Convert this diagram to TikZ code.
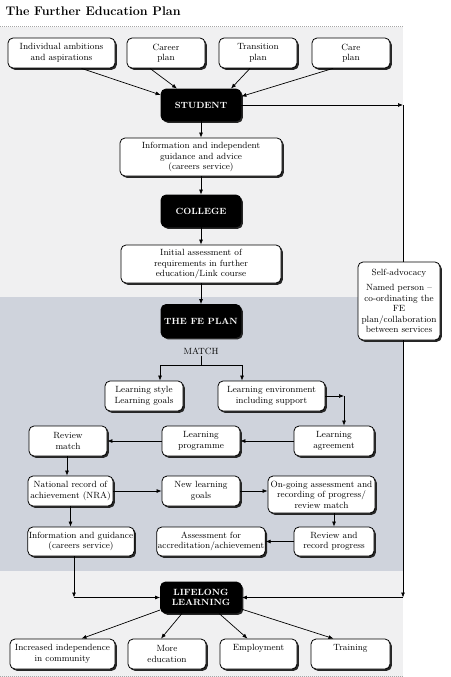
\documentclass[tikz,border=0pt]{standalone}
\usepackage{fontspec}
\usepackage{xcolor}
\usetikzlibrary{positioning, arrows.meta, calc, shadows}
\definecolor{panel}{HTML}{F0F0F1}
\definecolor{band}{HTML}{CFD3DC}

\begin{document}
\begin{tikzpicture}[
  x=1pt, y=-1pt,
  font=\fontsize{9}{10.5}\selectfont,
  box/.style={draw, rounded corners=5pt, fill=white, align=center, inner sep=1pt, minimum width=78pt, minimum height=30pt, line width=0.8pt, drop shadow={shadow xshift=1.8pt, shadow yshift=-1.8pt, fill=black!85, opacity=1}},
  dark/.style={box, fill=black, text=white, font=\fontsize{9}{10.5}\selectfont\bfseries, minimum width=80pt, minimum height=32pt},
  arr/.style={-{Latex[length=5pt, width=4pt]}, line width=0.7pt},
  line/.style={line width=0.7pt}
]
\useasboundingbox (0,0) rectangle (450,677);
\fill[panel] (0,27) rectangle (403,677);
\fill[band] (0,297) rectangle (403,571);
\draw[gray!70, line width=0.9pt, dash pattern=on 0.9pt off 1.1pt] (0,26) -- (403,26);
\draw[gray!70, line width=0.9pt, dash pattern=on 0.9pt off 1.1pt] (0,676) -- (403,676);
\node[anchor=west, font=\fontsize{12.5}{14}\selectfont\bfseries] (title) at (2,11) {The Further Education Plan};

\node[box, minimum width=107pt] (ambit) at (61.5,53) {Individual ambitions\\and aspirations};
\node[box] (career) at (166,53) {Career\\plan};
\node[box] (trans) at (258,53) {Transition\\plan};
\node[box] (care) at (351,53) {Care\\plan};
\node[dark] (student) at (201,105) {STUDENT};
\node[box, minimum width=162pt, minimum height=38pt] (info) at (201,157) {Information and independent\\guidance and advice\\(careers service)};
\node[dark] (college) at (201,211) {COLLEGE};
\node[box, minimum width=160pt, minimum height=38pt] (initial) at (201,264) {Initial assessment of\\requirements in further\\education/Link course};
\node[dark, minimum height=33pt] (feplan) at (201,321) {THE FE PLAN};
\node[inner sep=1pt] (match) at (201,351) {MATCH};
\node[box] (lstyle) at (144,396) {Learning style\\Learning goals};
\node[box, minimum width=107pt] (lenv) at (271.5,396) {Learning environment\\including support};
\node[box] (review) at (68,441) {Review\\match};
\node[box] (lprog) at (201,441) {Learning\\programme};
\node[box, minimum width=80pt] (lagree) at (334,441) {Learning\\agreement};
\node[box, minimum width=85pt] (nra) at (70.5,491) {National record of\\achievement (NRA)};
\node[box] (newgoals) at (201,491) {New learning\\goals};
\node[box, minimum width=107pt, minimum height=37pt] (ongoing) at (321.5,494.5) {On-going assessment and\\recording of progress/\\review match};
\node[box, minimum width=106pt, minimum height=29pt] (infog) at (81,541.5) {Information and guidance\\(careers service)};
\node[box, minimum width=106pt, minimum height=29pt] (accred) at (211,541.5) {Assessment for\\accreditation/achievement};
\node[box, minimum width=80pt, minimum height=29pt] (rrp) at (334,541.5) {Review and\\record progress};
\node[dark, minimum width=81pt, minimum height=31pt] (lifelong) at (201,597.5) {LIFELONG\\LEARNING};
\node[box, minimum width=105pt] (indep) at (62.5,654) {Increased independence\\in community};
\node[box] (moreed) at (167,654) {More\\education};
\node[box, minimum width=77pt] (employ) at (258.5,654) {Employment\\\strut};
\node[box, minimum width=79pt] (training) at (350.5,654) {Training\\\strut};
\node[box, minimum width=82pt, minimum height=78pt] (selfadv) at (399,301) {Self-advocacy\\[5pt]Named person --\\co-ordinating the\\FE\\plan/collaboration\\between services};

\coordinate (sa) at (403,105);
\coordinate (sb) at (403,597.5);
\coordinate (ma) at (160,365);
\coordinate (mb) at (242,365);
\coordinate (le) at (344,396);
\coordinate (ig) at (74,597.5);

\draw[arr] ([xshift=20pt]ambit.south) -- (student.166);
\draw[arr] ([xshift=-16pt]career.south) -- ([xshift=-24pt]student.north);
\draw[arr] ([xshift=-8pt]trans.south) -- ([xshift=30pt]student.north);
\draw[arr] ([xshift=-18pt]care.south) -- (student.12);
\draw[arr] (student.east) -- (sa);
\draw[line] (sa) -- (sa |- selfadv.north);
\draw[arr] (sa |- selfadv.south) -- (sb);
\draw[arr] (sb) -- (lifelong.east);
\draw[arr] (student) -- (info);
\draw[arr] (info) -- (college);
\draw[arr] (college) -- (initial);
\draw[arr] (initial) -- (feplan);
\draw[line] (match.south) -- (match.south |- ma);
\draw[line] (ma) -- (mb);
\draw[arr] (ma) -- (ma |- lstyle.north);
\draw[arr] (mb) -- (mb |- lenv.north);
\draw[arr] (lenv.east) -- (le);
\draw[arr] (le) -- (le |- lagree.north);
\draw[arr] (lagree) -- (lprog);
\draw[arr] (lprog) -- (review);
\draw[arr] ([xshift=-1pt]review.south) -- ([xshift=-1pt]review.south |- nra.north);
\draw[arr] (nra) -- (newgoals);
\draw[arr] (newgoals.east) -- (newgoals.east -| ongoing.west);
\draw[arr] (rrp.north |- ongoing.south) -- (rrp.north);
\draw[arr] (nra.south) -- (nra.south |- infog.north);
\draw[arr] (rrp) -- (accred);
\draw[arr] ([xshift=-7pt]infog.south) -- (ig);
\draw[arr] (ig) -- (lifelong.west);
\draw[arr] (lifelong.197) -- ([xshift=19pt]indep.north);
\draw[arr] ([xshift=-19pt]lifelong.south) -- ([xshift=-6pt]moreed.north);
\draw[arr] ([xshift=18pt]lifelong.south) -- ([xshift=-11pt]employ.north);
\draw[arr] (lifelong.344) -- ([xshift=-17pt]training.north);
\end{tikzpicture}
\end{document}
